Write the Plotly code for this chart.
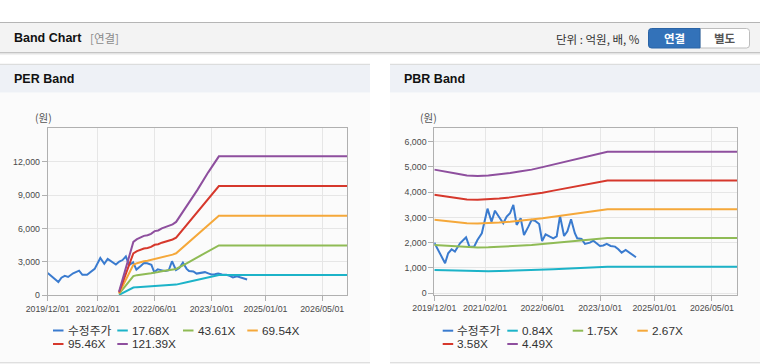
import plotly.graph_objects as go

W, H = 760, 364

# ---------------- data ----------------
x_tick_dates = ["2019-12-01", "2021-02-01", "2022-06-01", "2023-10-01", "2025-01-01", "2026-05-01"]
x_tick_labels = ["2019/12/01", "2021/02/01", "2022/06/01", "2023/10/01", "2025/01/01", "2026/05/01"]
x_range = ["2019-12-01", "2026-12-01"]

price_name = "수정주가"
price_dates = [
    "2019-12-01", "2020-01-18", "2020-03-01", "2020-03-27", "2020-04-25", "2020-05-23",
    "2020-07-05", "2020-08-25", "2020-09-22", "2020-11-01", "2020-11-29", "2021-01-05",
    "2021-02-22", "2021-03-28", "2021-04-26", "2021-06-01", "2021-07-05", "2021-08-03",
    "2021-08-31", "2021-09-28", "2021-10-26", "2021-11-29", "2021-12-27", "2022-02-02",
    "2022-03-01", "2022-03-29", "2022-05-04", "2022-05-29", "2022-06-27", "2022-08-03",
    "2022-08-31", "2022-09-29", "2022-10-27", "2022-11-30", "2022-12-28", "2023-01-28",
    "2023-03-01", "2023-03-21", "2023-04-27", "2023-05-25", "2023-07-06", "2023-08-04",
    "2023-09-07", "2023-09-29", "2023-10-27", "2023-11-25", "2023-12-28", "2024-02-03",
    "2024-03-02", "2024-03-30", "2024-05-03", "2024-06-03", "2024-06-28", "2024-07-29",
]
price_values = [
    2003, 1583, 1187, 1583, 1741, 1649,
    1978, 2216, 1844, 1844, 2109, 2374,
    3348, 2833, 3269, 3007, 2770, 3032,
    3166, 3494, 2703, 2970, 2307, 2636,
    2900, 2870, 2742, 2069, 2334, 2240,
    2175, 2250, 3059, 2267, 2450, 2928,
    2374, 2175, 2148, 1951, 2003, 2080,
    1951, 1872, 1890, 1951, 1872, 1846,
    1741, 1607, 1714, 1620, 1516, 1424,
]

# PER band
per_band_dates = [
    "2021-08-01", "2021-12-01", "2022-01-01", "2022-02-01", "2022-03-01", "2022-04-01",
    "2022-05-01", "2022-06-01", "2022-07-01", "2022-08-01", "2022-09-01", "2022-10-01",
    "2022-11-01", "2022-12-01", "2023-03-01", "2023-06-01", "2023-09-01", "2023-12-01",
    "2026-12-01",
]
per_names = ["17.68X", "43.61X", "69.54X", "95.46X", "121.39X"]
per_17_68 = [48, 698, 734, 760, 778, 787, 804, 840, 849, 875, 893, 911, 928, 960, 1167, 1379, 1609, 1818, 1818]
per_43_61 = [118, 1723, 1810, 1875, 1919, 1941, 1984, 2071, 2093, 2159, 2202, 2246, 2290, 2368, 2878, 3402, 3969, 4483, 4483]
per_69_54 = [188, 2747, 2886, 2990, 3060, 3095, 3164, 3303, 3338, 3442, 3512, 3581, 3651, 3776, 4590, 5424, 6328, 7149, 7149]
per_95_46 = [258, 3771, 3962, 4105, 4200, 4248, 4343, 4534, 4582, 4725, 4821, 4916, 5012, 5183, 6300, 7446, 8687, 9813, 9813]
per_121_39 = [328, 4795, 5038, 5220, 5341, 5402, 5523, 5766, 5827, 6009, 6130, 6252, 6373, 6591, 8012, 9468, 11046, 12479, 12479]
per_y_ticks = [0, 3000, 6000, 9000, 12000]

# PBR band
pbr_band_dates = [
    "2019-12-01", "2020-03-01", "2020-06-01", "2020-09-01", "2020-12-01", "2021-03-01",
    "2021-06-01", "2021-09-01", "2021-12-01", "2022-03-01", "2022-06-01", "2022-09-01",
    "2022-12-01", "2023-03-01", "2023-06-01", "2023-09-01", "2023-12-01", "2026-12-01",
]
pbr_names = ["0.84X", "1.75X", "2.67X", "3.58X", "4.49X"]
pbr_0_84 = [916, 903, 886, 872, 869, 872, 880, 890, 903, 916, 934, 953, 973, 993, 1012, 1032, 1047, 1047]
pbr_1_75 = [1908, 1881, 1846, 1817, 1810, 1817, 1834, 1855, 1881, 1908, 1946, 1986, 2027, 2069, 2109, 2149, 2182, 2182]
pbr_2_67 = [2910, 2870, 2817, 2771, 2761, 2771, 2798, 2830, 2870, 2910, 2969, 3030, 3092, 3156, 3217, 3279, 3329, 3329]
pbr_3_58 = [3902, 3849, 3777, 3716, 3702, 3716, 3752, 3795, 3849, 3902, 3981, 4063, 4146, 4232, 4314, 4396, 4464, 4464]
pbr_4_49 = [4894, 4827, 4737, 4661, 4643, 4661, 4706, 4759, 4827, 4894, 4993, 5096, 5199, 5307, 5410, 5514, 5599, 5599]
pbr_y_ticks = [0, 1000, 2000, 3000, 4000, 5000, 6000]

price_color = "#3a7bcf"
band_colors = ["#1cb3c8", "#8fbb55", "#f5a83a", "#d6382c", "#8e4f9e"]

# ---------------- helpers ----------------
def px(x):
    return x / W

def py(y):
    return 1 - y / H

LATIN = "Liberation Sans, Noto Sans CJK KR, sans-serif"
KR = "Noto Sans CJK KR, Liberation Sans, sans-serif"

fig = go.Figure()

# PER traces
fig.add_trace(go.Scatter(x=price_dates, y=price_values, mode="lines", name=price_name,
                         line=dict(color=price_color, width=2), xaxis="x", yaxis="y", showlegend=False))
for name, vals, c in zip(per_names, [per_17_68, per_43_61, per_69_54, per_95_46, per_121_39], band_colors):
    fig.add_trace(go.Scatter(x=per_band_dates, y=vals, mode="lines", name=name,
                             line=dict(color=c, width=2), xaxis="x", yaxis="y", showlegend=False))

# PBR traces
fig.add_trace(go.Scatter(x=price_dates, y=price_values, mode="lines", name=price_name,
                         line=dict(color=price_color, width=2), xaxis="x2", yaxis="y2", showlegend=False))
for name, vals, c in zip(pbr_names, [pbr_0_84, pbr_1_75, pbr_2_67, pbr_3_58, pbr_4_49], band_colors):
    fig.add_trace(go.Scatter(x=pbr_band_dates, y=vals, mode="lines", name=name,
                             line=dict(color=c, width=2), xaxis="x2", yaxis="y2", showlegend=False))

axis_common = dict(showgrid=True, gridcolor="#e6e6e6", gridwidth=1, showline=True, linecolor="#b0b0b0",
                   linewidth=1, mirror=True, ticks="outside", ticklen=5, tickcolor="#b0b0b0",
                   tickfont=dict(family=LATIN, size=8.8, color="#4a4a4a"), zeroline=False, fixedrange=True,
                   automargin=False)

fig.update_layout(
    width=W, height=H, autosize=False,
    margin=dict(l=0, r=0, t=0, b=0, pad=0, autoexpand=False),
    paper_bgcolor="#ffffff", plot_bgcolor="rgba(0,0,0,0)",
    showlegend=False,
    xaxis=dict(domain=[px(47.7), px(347.3)], anchor="y", type="date", range=x_range,
               tickvals=x_tick_dates, ticktext=x_tick_labels, **axis_common),
    yaxis=dict(domain=[py(295.3), py(128.3)], anchor="x", range=[0, 15000],
               tickvals=per_y_ticks, tickformat=",d", **axis_common),
    xaxis2=dict(domain=[px(434.3), px(737.3)], anchor="y2", type="date", range=x_range,
                tickvals=x_tick_dates, ticktext=x_tick_labels, **axis_common),
    yaxis2=dict(domain=[py(294.5), py(128.3)], anchor="x2", range=[-50, 6530],
                tickvals=pbr_y_ticks, tickformat=",d", **axis_common),
)

shapes = []
ann = []

def rect(x0, y0, x1, y1, fill, line=None, lw=0):
    shapes.append(dict(type="rect", xref="paper", yref="paper", x0=px(x0), x1=px(x1), y0=py(y1), y1=py(y0),
                       fillcolor=fill, line=dict(color=line or fill, width=lw), layer="below"))

def hline(x0, x1, y, color, w=1):
    shapes.append(dict(type="line", xref="paper", yref="paper", x0=px(x0), x1=px(x1), y0=py(y), y1=py(y),
                       line=dict(color=color, width=w), layer="below"))

def text(x, y, s, size=12, color="#333", family=KR, xanchor="left", bold=False):
    if bold:
        s = "<b>" + s + "</b>"
    ann.append(dict(xref="paper", yref="paper", x=px(x), y=py(y), text=s, showarrow=False,
                    xanchor=xanchor, yanchor="middle", font=dict(size=size, color=color, family=family)))

# top header bar
rect(0, 22.5, 760, 52.5, "#f3f3f3")
hline(0, 760, 22.5, "#b5b5b5")
hline(0, 760, 52.5, "#c4c4c4")
hline(0, 760, 53.6, "#e2e2e2")
hline(0, 760, 54.6, "#f0f0f0")

text(12, 38, "Band Chart", size=12.5, color="#111", family=LATIN, bold=True)
text(88, 38.5, "[연결]", size=11.5, color="#8a8a8a")
text(641.5, 39, "단위 : 억원, 배, %", size=11.5, color="#333", xanchor="right")

# buttons
def rounded_path(x0, y0, x1, y1, r, left=True, right=True):
    X = lambda v: px(v)
    Y = lambda v: py(v)
    p = []
    if left:
        p.append(f"M{X(x0)},{Y(y0 + r)} Q{X(x0)},{Y(y0)} {X(x0 + r)},{Y(y0)}")
    else:
        p.append(f"M{X(x0)},{Y(y0)}")
    if right:
        p.append(f"L{X(x1 - r)},{Y(y0)} Q{X(x1)},{Y(y0)} {X(x1)},{Y(y0 + r)} L{X(x1)},{Y(y1 - r)} Q{X(x1)},{Y(y1)} {X(x1 - r)},{Y(y1)}")
    else:
        p.append(f"L{X(x1)},{Y(y0)} L{X(x1)},{Y(y1)}")
    if left:
        p.append(f"L{X(x0 + r)},{Y(y1)} Q{X(x0)},{Y(y1)} {X(x0)},{Y(y1 - r)} Z")
    else:
        p.append(f"L{X(x0)},{Y(y1)} Z")
    return " ".join(p)

shapes.append(dict(type="path", xref="paper", yref="paper", path=rounded_path(700, 28.5, 749.5, 48, 3, left=False),
                   fillcolor="#ffffff", line=dict(color="#bdbdbd", width=1), layer="below"))
shapes.append(dict(type="path", xref="paper", yref="paper", path=rounded_path(648.5, 28.5, 700, 48, 3, right=False),
                   fillcolor="#3372b9", line=dict(color="#2a64a6", width=1), layer="below"))
text(674.5, 38.5, "연결", size=11.5, color="#ffffff", xanchor="center", bold=True)
text(725, 38.5, "별도", size=11.5, color="#555555", xanchor="center", bold=True)

# panels
for (x0, x1, title) in [(0, 370, "PER Band"), (390, 760, "PBR Band")]:
    rect(x0, 92.5, x1, 362.5, "#fbfbfb")
    rect(x0, 64.5, x1, 92.5, "#eef1f6")
    hline(x0, x1, 64.3, "#d6d6d6")
    hline(x0, x1, 362.8, "#d2d2d2")
    text(x0 + 12, 79, title, size=12.5, color="#111", family=LATIN, bold=True)

# unit labels
text(43, 118, "(원)", size=10.5, color="#555", xanchor="center")
text(428, 118, "(원)", size=10.5, color="#555", xanchor="center")

# legends (drawn manually to match the compact style)
def legend(items, colors, col_x, row_y):
    for i, (name, c) in enumerate(zip(items, colors)):
        cx = col_x[i % 4]
        ry = row_y[i // 4]
        hline(cx, cx + 10.5, ry, c, 2)
        text(cx + 12.5, ry, name, size=11.8, color="#333", family=LATIN)

per_legend_items = [price_name] + per_names
pbr_legend_items = [price_name] + pbr_names
leg_colors = [price_color] + band_colors
legend(per_legend_items, leg_colors, [53, 117.3, 183, 247.3], [330.5, 344])
legend(pbr_legend_items, leg_colors, [442.7, 507.3, 572.7, 637.3], [330.7, 344])

fig.update_layout(shapes=shapes, annotations=ann)

fig.write_html(
    "out.html",
    config={"displayModeBar": False, "staticPlot": False},
    post_script="document.body.style.margin='0';document.body.style.padding='0';document.body.style.overflow='hidden';",
)
